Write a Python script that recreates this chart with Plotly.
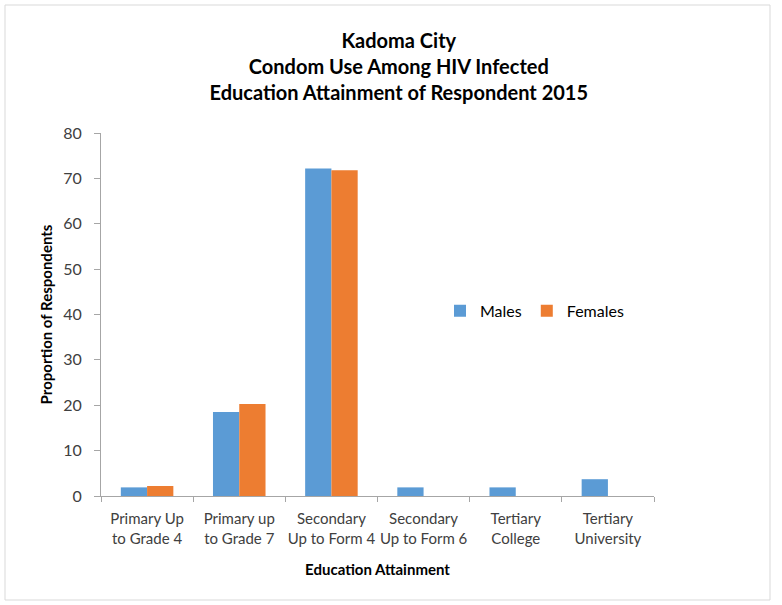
import plotly.graph_objects as go

categories = ["Primary Up<br>to Grade 4", "Primary up<br>to Grade 7", "Secondary<br>Up to Form 4",
              "Secondary<br>Up to Form 6", "Tertiary<br>College", "Tertiary<br>University"]
males = [1.9, 18.5, 72.2, 1.9, 1.9, 3.7]
females = [2.2, 20.3, 71.8, 0, 0, 0]
y_ticks = [0, 10, 20, 30, 40, 50, 60, 70, 80]

FONT = "Lato"
fig = go.Figure()
fig.add_trace(go.Bar(name="Males", x=categories, y=males, marker_color="#5B9BD5",
                     marker_line=dict(color="#5B9BD5", width=0)))
fig.add_trace(go.Bar(name="Females", x=categories, y=females, marker_color="#ED7D31",
                     marker_line=dict(color="#ED7D31", width=0)))

fig.update_layout(
    width=782, height=605,
    margin=dict(l=101, r=128, t=133, b=109),
    paper_bgcolor="white", plot_bgcolor="white",
    barmode="group", bargap=0.43, bargroupgap=0,
    font=dict(family=FONT, color="#404040", size=15),
    title=dict(text="<b>Kadoma City<br>Condom Use Among HIV Infected<br>Education Attainment of Respondent 2015</b>",
               x=0.51, xanchor="center", y=1 - 48/605, yanchor="top", yref="container",
               font=dict(family=FONT, size=20, color="#000000")),
    legend=dict(orientation="h", x=(440-101)/553, xanchor="left", y=0.51, yanchor="middle",
                font=dict(family=FONT, size=16, color="#000000"), itemwidth=30,
                bgcolor="rgba(0,0,0,0)"),
    xaxis=dict(showline=True, linecolor="#A6A6A6", linewidth=1, ticks="outside",
               tickson="boundaries", ticklen=5, tickcolor="#A6A6A6", ticklabelstandoff=9,
               tickangle=0, automargin=False,
               tickfont=dict(family=FONT, size=15, color="#404040"),
               title=dict(text="<b>Education Attainment</b>", standoff=18,
                          font=dict(family=FONT, size=15, color="#000000"))),
    yaxis=dict(range=[0, 80], tickvals=y_ticks, showline=True, linecolor="#A6A6A6", linewidth=1,
               ticks="outside", ticklen=6, tickcolor="#A6A6A6", showgrid=False, zeroline=False,
               ticklabelstandoff=9, automargin=False,
               tickfont=dict(family=FONT, size=16, color="#404040"),
               title=dict(text="<b>Proportion of Respondents</b>", standoff=6,
                          font=dict(family=FONT, size=15, color="#000000"))),
)
fig.add_shape(type="rect", xref="paper", yref="paper",
              x0=-96/553, x1=(770-101)/553, y0=-(600-496)/363, y1=(496-5)/363,
              line=dict(color="#D9D9D9", width=1), fillcolor="rgba(0,0,0,0)", layer="below")

fig.write_html("out.html")
